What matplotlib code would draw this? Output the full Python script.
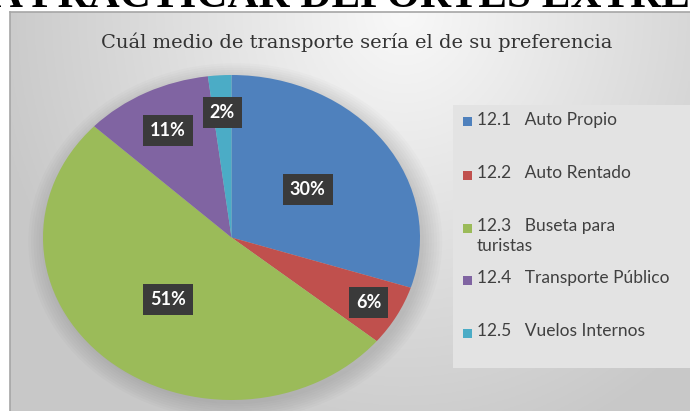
import numpy as np
import matplotlib.pyplot as plt
from matplotlib.patches import Ellipse, Rectangle

# data
labels = ['12.1   Auto Propio', '12.2   Auto Rentado', '12.3   Buseta para\nturistas',
          '12.4   Transporte Público', '12.5   Vuelos Internos']
values = [30, 6, 51, 11, 2]
colors = ['#4F81BD', '#C0504D', '#9BBB59', '#8064A2', '#4BACC6']
pct_dist = [0.50, 0.83, 0.51, 0.74, 0.77]   # excel "best fit" label spots

title = 'Cuál medio de transporte sería el de su preferencia'
heading = 'A PRACTICAR DEPORTES EXTREMOS'

W, H = 690, 411
fig = plt.figure(figsize=(W / 100, H / 100), dpi=100)
fig.patch.set_facecolor('white')

def fx(px):
    return px / W

def fy(py):
    return 1 - py / H

# cropped heading of the slide above the chart
fig.text(fx(-8), fy(7), heading, fontsize=31, fontweight='bold',
         family='Liberation Serif', color='black', ha='left', va='baseline')

# chart area with grey radial gradient
bg = fig.add_axes([fx(10), 0, 1 - fx(10), fy(12)])
xx, yy = np.meshgrid(np.linspace(0, 1, 300), np.linspace(0, 1, 200))
d = np.sqrt(((xx - 0.58) / 0.62) ** 2 + ((1 - yy) / 1.15) ** 2)
g = 0.975 - 0.19 * np.clip(d, 0, 1)
bg.imshow(np.dstack([g, g, g]), extent=[0, 1, 0, 1], origin='lower', aspect='auto')
bg.set_xticks([])
bg.set_yticks([])
for s in ['right', 'bottom']:
    bg.spines[s].set_visible(False)
for s in ['top', 'left']:
    bg.spines[s].set_color('#a6a6a6')
    bg.spines[s].set_linewidth(1.2)

fig.text(fx(357), fy(42), title, fontsize=14, family='DejaVu Serif',
         color='#333333', ha='center', va='center')

# legend panel
fig.patches.append(Rectangle((fx(453), fy(368)), fx(690 - 453), (368 - 105) / H,
                             transform=fig.transFigure, fc='#e3e3e3', ec='none', zorder=1))
leg_y = [122, 175, 228, 280, 333]
for lab, col, y in zip(labels, colors, leg_y):
    fig.patches.append(Rectangle((fx(463), fy(y + 4.5)), fx(9), 9 / H,
                                 transform=fig.transFigure, fc=col, ec='none', zorder=2))
    fig.text(fx(477), fy(y - 10), lab, fontsize=12.5, family='Lato', color='#404040',
             ha='left', va='top', linespacing=1.3, zorder=3)

# pie, stretched into an ellipse like the original
ax = fig.add_axes([fx(43), fy(400), fx(420 - 43), (400 - 75) / H])
for k in range(8):
    ax.add_patch(Ellipse((0.02, -0.025), 2 + 0.014 * k * 2, 2 + 0.014 * k * 2,
                         fc='black', ec='none', alpha=0.014, clip_on=False, zorder=0))
wedges, _ = ax.pie(values, colors=colors, startangle=90, counterclock=False,
                   radius=1, wedgeprops=dict(linewidth=0))
ax.set_aspect('auto')
ax.set_xlim(-1, 1)
ax.set_ylim(-1, 1)
ax.axis('off')

for w, v, r in zip(wedges, values, pct_dist):
    ang = np.deg2rad((w.theta1 + w.theta2) / 2)
    ax.text(r * np.cos(ang), r * np.sin(ang), f'{v}%', fontsize=13, fontweight='bold',
            family='Lato', color='white', ha='center', va='center', zorder=5,
            bbox=dict(boxstyle='square,pad=0.38', fc='#3a3a3a', ec='none'))

fig.savefig('out.png', dpi=100)
